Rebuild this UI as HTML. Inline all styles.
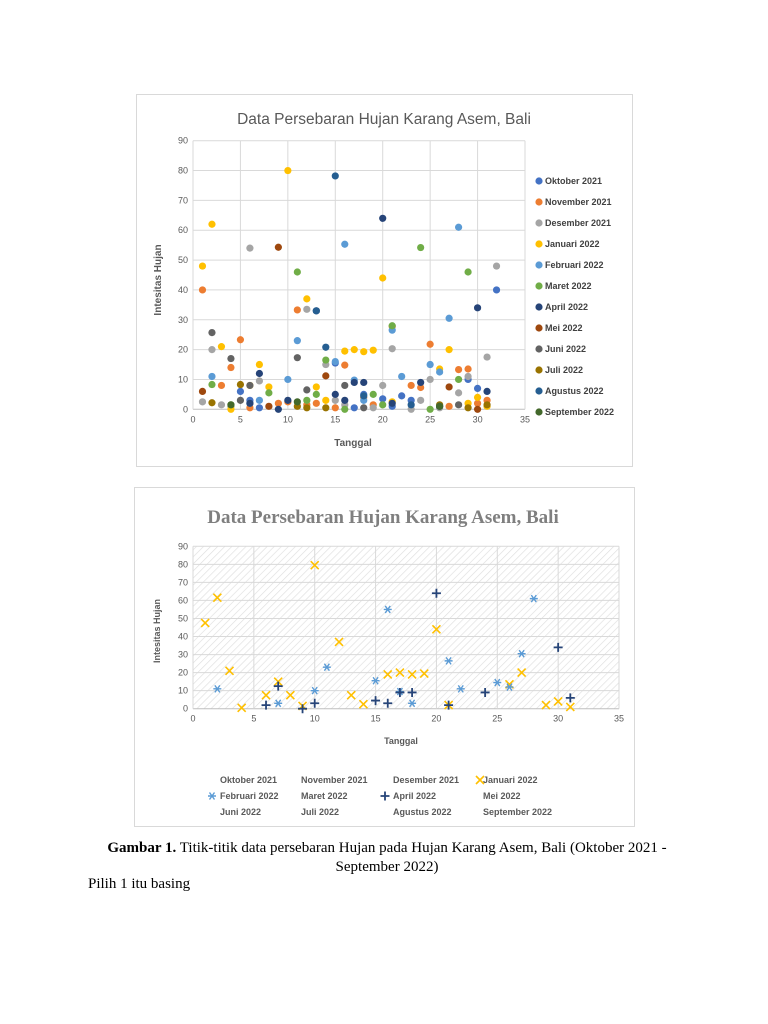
<!DOCTYPE html>
<html><head><meta charset="utf-8"><style>
html,body{margin:0;padding:0;background:#fff;width:768px;height:1024px;overflow:hidden;font-family:"Liberation Sans",sans-serif}
svg{position:absolute;left:0;top:0}
.cap{position:absolute;font-family:"Liberation Serif",serif;font-size:15px;color:#000;white-space:nowrap}
</style></head><body>
<svg id="s" width="768" height="1024" viewBox="0 0 768 1024">
<defs>
<pattern id="hatch" width="5" height="5" patternUnits="userSpaceOnUse" patternTransform="rotate(45)">
<rect width="5" height="5" fill="#fff"/><line x1="0" y1="0" x2="0" y2="5" stroke="#dedede" stroke-width="1.3"/>
</pattern>
</defs>
<!-- top chart -->
<rect x="136.5" y="94.5" width="496" height="372" fill="#fff" stroke="#d9d9d9"/>
<g id="g1"></g>
<text x="384" y="124" text-anchor="middle" font-size="15.5" fill="#595959">Data Persebaran Hujan Karang Asem, Bali</text>
<text transform="translate(161,280) rotate(-90)" text-anchor="middle" font-size="10" font-weight="bold" fill="#595959">Intesitas Hujan</text>
<text x="353" y="446" text-anchor="middle" font-size="10" font-weight="bold" fill="#595959">Tanggal</text>
<g font-size="9" font-weight="bold" fill="#404040">
<text x="545" y="184">Oktober 2021</text><text x="545" y="205">November 2021</text><text x="545" y="226">Desember 2021</text>
<text x="545" y="247">Januari 2022</text><text x="545" y="268">Februari 2022</text><text x="545" y="289">Maret 2022</text>
<text x="545" y="310">April 2022</text><text x="545" y="331">Mei 2022</text><text x="545" y="352">Juni 2022</text>
<text x="545" y="373">Juli 2022</text><text x="545" y="394">Agustus 2022</text><text x="545" y="415">September 2022</text>
</g>
<!-- bottom chart -->
<rect x="134.5" y="487.5" width="500" height="339" fill="#fff" stroke="#d9d9d9"/>
<rect x="193" y="546" width="426" height="163" fill="url(#hatch)"/>
<g id="g2"></g>
<text x="383" y="523" text-anchor="middle" font-size="19" font-weight="bold" fill="#7f7f7f" font-family="Liberation Serif,serif">Data Persebaran Hujan Karang Asem, Bali</text>
<text transform="translate(160,631) rotate(-90)" text-anchor="middle" font-size="9" font-weight="bold" fill="#595959">Intesitas Hujan</text>
<text x="401" y="744" text-anchor="middle" font-size="9" font-weight="bold" fill="#595959">Tanggal</text>
<g font-size="9" font-weight="bold" fill="#595959">
<text x="220" y="783">Oktober 2021</text><text x="301" y="783">November 2021</text><text x="393" y="783">Desember 2021</text><text x="483" y="783">Januari 2022</text>
<text x="220" y="799">Februari 2022</text><text x="301" y="799">Maret 2022</text><text x="393" y="799">April 2022</text><text x="483" y="799">Mei 2022</text>
<text x="220" y="815">Juni 2022</text><text x="301" y="815">Juli 2022</text><text x="393" y="815">Agustus 2022</text><text x="483" y="815">September 2022</text>
</g>
</svg>
<div class="cap" style="left:0;width:768px;top:840px;text-align:center;padding-left:6px;box-sizing:border-box"><b>Gambar 1.</b> Titik-titik data persebaran Hujan pada Hujan Karang Asem, Bali (Oktober 2021 -</div>
<div class="cap" style="left:0;width:768px;top:859px;text-align:center;padding-left:6px;box-sizing:border-box">September 2022)</div>
<div class="cap" style="left:88px;top:876px">Pilih 1 itu basing</div>
<script>
var NS="http://www.w3.org/2000/svg";
function el(p,t,a){var e=document.createElementNS(NS,t);for(var k in a)e.setAttribute(k,a[k]);p.appendChild(e);return e;}
var g1=document.getElementById('g1'),g2=document.getElementById('g2');
var X0=193,X1=525,Y0=409.3,Y1=140.7;
function tx(x){return X0+(X1-X0)*x/35}function ty(y){return Y0-(Y0-Y1)*y/90}
for(var i=0;i<=9;i++){el(g1,'line',{x1:X0,x2:X1,y1:ty(i*10),y2:ty(i*10),stroke:i?'#d9d9d9':'#bfbfbf','stroke-width':1});
 var t=el(g1,'text',{x:X0-5,y:ty(i*10)+3,'text-anchor':'end','font-size':9,fill:'#595959'});t.textContent=i*10;}
for(var i=0;i<=7;i++){el(g1,'line',{x1:tx(i*5),x2:tx(i*5),y1:Y1,y2:Y0,stroke:'#d9d9d9'});
 var t=el(g1,'text',{x:tx(i*5),y:Y0+13,'text-anchor':'middle','font-size':9,fill:'#595959'});t.textContent=i*5;}
var S=[
['#4472C4',[[5,6],[6,3],[7,0.5],[15,15.5],[17,0.5],[18,5],[20,3.5],[21,1],[22,4.5],[23,3],[29,10],[30,7],[32,40]]],
['#ED7D31',[[1,40],[4,14],[3,8],[5,23.3],[6,0.5],[9,2],[11,33.3],[12,1.5],[13,2],[15,0.5],[16,14.8],[18,4],[21,27.8],[23,8],[24,7.3],[25,21.8],[27,1],[28,13.3],[29,13.5],[30,2],[31,3],[19,1.5],[10,2.5]]],
['#A5A5A5',[[1,2.5],[2,20],[3,1.5],[4,1],[6,54],[7,9.5],[12,33.5],[14,15],[15,3],[16,1.5],[19,0.5],[20,8],[21,20.3],[23,0],[24,3],[25,10],[26,0.5],[28,5.5],[29,11],[31,17.5],[32,48]]],
['#FFC000',[[1,48],[2,62],[3,21],[4,0],[6,8],[7,15],[8,7.5],[10,80],[12,37],[13,7.5],[14,3],[16,19.5],[17,20],[18,19.3],[19,19.8],[20,44],[21,2.5],[26,13.5],[27,20],[29,2],[30,4],[31,1]]],
['#5B9BD5',[[2,11],[6,2],[7,3],[10,10],[11,23],[15,16],[16,55.3],[17,9.8],[18,3],[21,26.5],[22,11],[25,15],[26,12.5],[27,30.5],[28,61]]],
['#70AD47',[[2,8.3],[4,1.5],[8,5.5],[11,46],[12,3],[13,5],[14,16.5],[16,0],[19,5],[20,1.5],[21,28],[24,54.2],[25,0],[28,10],[29,46]]],
['#264478',[[6,2],[7,12],[9,0],[10,3],[13,33],[15,5],[16,3],[17,9],[18,9],[20,64],[21,2],[24,9],[30,34],[31,6]]],
['#9E480E',[[1,6],[8,1],[9,54.3],[14,11.2],[27,7.5],[30,0]]],
['#636363',[[2,25.7],[4,17],[5,3],[11,17.3],[12,6.5],[16,8],[18,0.5],[28,1.5],[6,8],[26,1]]],
['#997300',[[2,2.2],[5,8.3],[11,1],[12,0.5],[14,0.5],[26,1.5],[29,0.5],[31,1.5]]],
['#255E91',[[14,20.8],[15,78.2],[13,33],[23,1.5],[26,1],[18,4.5]]],
['#43682B',[[4,1.5],[11,2.5],[26,1]]]];
S.forEach(function(s,i){s[1].forEach(function(p){el(g1,'circle',{cx:tx(p[0]),cy:ty(p[1]),r:3.6,fill:s[0]});});
 el(g1,'circle',{cx:539,cy:181+i*21,r:3.6,fill:s[0]});});
var A0=193,A1=619,B0=708.7,B1=546.3;
function ux(x){return A0+(A1-A0)*x/35}function uy(y){return B0-(B0-B1)*y/90}
for(var i=0;i<=9;i++){el(g2,'line',{x1:A0,x2:A1,y1:uy(i*10),y2:uy(i*10),stroke:i?'#d9d9d9':'#bfbfbf'});
 var t=el(g2,'text',{x:A0-5,y:uy(i*10)+3,'text-anchor':'end','font-size':9,fill:'#595959'});t.textContent=i*10;}
for(var i=0;i<=7;i++){el(g2,'line',{x1:ux(i*5),x2:ux(i*5),y1:B1,y2:B0,stroke:'#d9d9d9'});
 var t=el(g2,'text',{x:ux(i*5),y:B0+13,'text-anchor':'middle','font-size':9,fill:'#595959'});t.textContent=i*5;}
function X(x,y,c){el(g2,'path',{d:'M'+(x-4)+' '+(y-4)+'L'+(x+4)+' '+(y+4)+'M'+(x+4)+' '+(y-4)+'L'+(x-4)+' '+(y+4),stroke:c,'stroke-width':1.6,fill:'none'});}
function P(x,y,c){el(g2,'path',{d:'M'+(x-4.5)+' '+y+'L'+(x+4.5)+' '+y+'M'+x+' '+(y-4.5)+'L'+x+' '+(y+4.5),stroke:c,'stroke-width':1.8,fill:'none'});}
function St(x,y,c){el(g2,'path',{d:'M'+(x-4)+' '+y+'L'+(x+4)+' '+y+'M'+(x-2.5)+' '+(y-3.5)+'L'+(x+2.5)+' '+(y+3.5)+'M'+(x+2.5)+' '+(y-3.5)+'L'+(x-2.5)+' '+(y+3.5),stroke:c,'stroke-width':1.4,fill:'none'});}
[[1,47.5],[2,61.5],[3,21],[4,0.5],[6,7.5],[7,15],[8,7.5],[9,1.5],[10,79.5],[12,37],[13,7.5],[14,2.5],[16,19],[17,20],[18,19],[19,19.5],[20,44],[21,2],[26,13.5],[27,20],[29,2],[30,4],[31,1]].forEach(function(p){X(ux(p[0]),uy(p[1]),'#FFC000');});
[[2,11],[7,3],[10,10],[11,23],[15,15.5],[16,55],[17,9.5],[18,3],[21,26.5],[22,11],[25,14.5],[26,12],[27,30.5],[28,61]].forEach(function(p){St(ux(p[0]),uy(p[1]),'#5B9BD5');});
[[6,2],[7,12.5],[9,0],[10,3],[15,4.5],[16,3],[17,9],[18,9],[20,64],[21,2],[24,9],[30,34],[31,6]].forEach(function(p){P(ux(p[0]),uy(p[1]),'#264478');});
X(480,780,'#FFC000');St(212,796,'#5B9BD5');P(385,796,'#264478');
</script>
</body></html>
